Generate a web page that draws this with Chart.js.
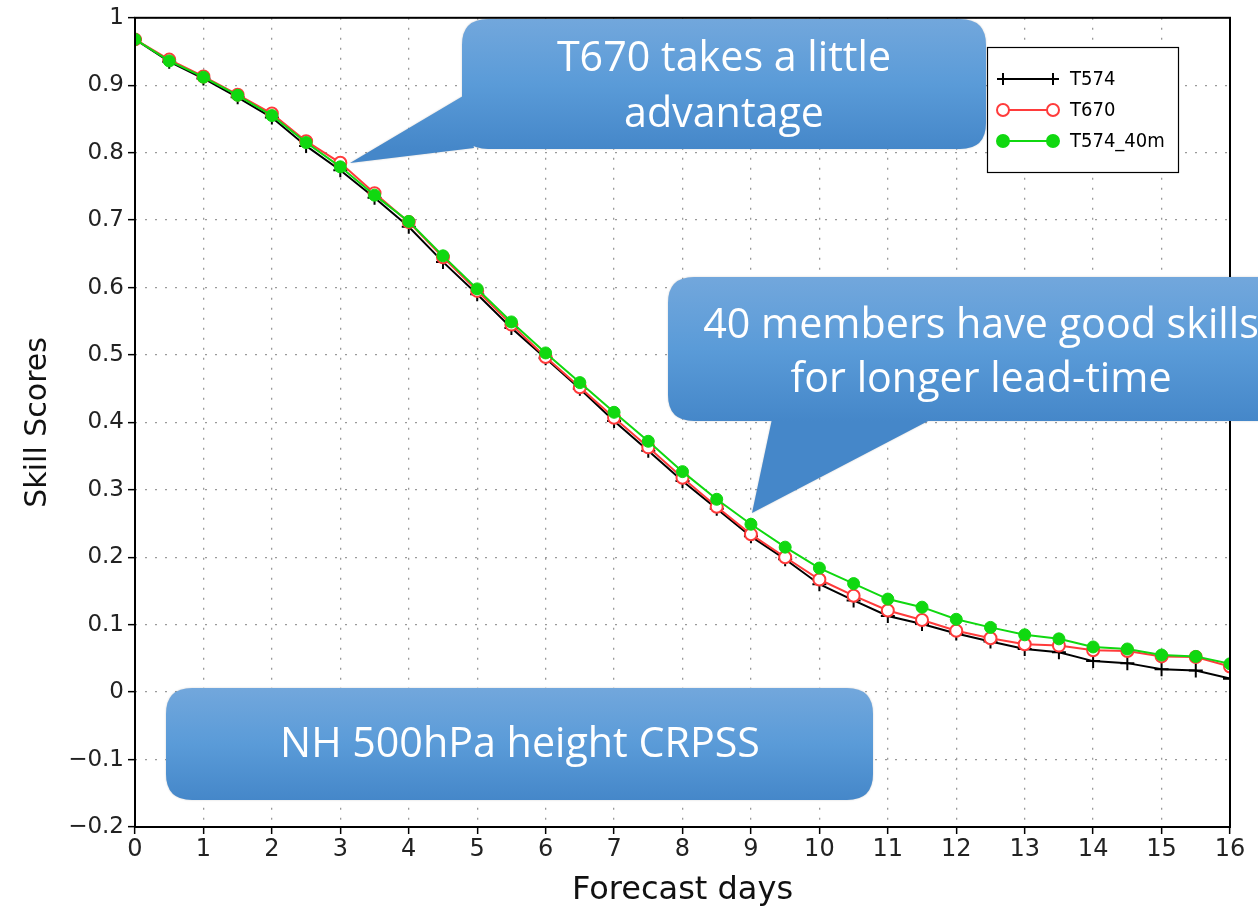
<!DOCTYPE html>
<html>
<head>
<meta charset="utf-8">
<title>NH 500hPa height CRPSS</title>
<script src="https://cdn.jsdelivr.net/npm/chart.js@4.4.1/dist/chart.umd.min.js"></script>
<style>
  html, body { margin: 0; padding: 0; background: #ffffff; }
  #wrap { width: 1258px; height: 906px; position: relative; }
  canvas { display: block; }
</style>
</head>
<body>
<div id="wrap"><canvas id="c" width="1258" height="906"></canvas></div>
<script>
// Forecast lead time (days), every 12 hours
const days = [0, 0.5, 1, 1.5, 2, 2.5, 3, 3.5, 4, 4.5, 5, 5.5, 6, 6.5, 7, 7.5, 8,
              8.5, 9, 9.5, 10, 10.5, 11, 11.5, 12, 12.5, 13, 13.5, 14, 14.5, 15, 15.5, 16];

// CRPSS for each ensemble configuration
const t574 = [0.968, 0.935, 0.910, 0.882, 0.852, 0.810, 0.774, 0.733, 0.690, 0.638, 0.590,
              0.540, 0.495, 0.450, 0.402, 0.358, 0.313, 0.272, 0.231, 0.197, 0.160, 0.136,
              0.113, 0.101, 0.087, 0.075, 0.064, 0.059, 0.046, 0.043, 0.034, 0.032, 0.020];
const t670 = [0.968, 0.938, 0.913, 0.886, 0.858, 0.817, 0.785, 0.740, 0.697, 0.645, 0.595,
              0.545, 0.497, 0.452, 0.407, 0.363, 0.318, 0.275, 0.234, 0.200, 0.167, 0.143,
              0.121, 0.107, 0.091, 0.080, 0.071, 0.069, 0.062, 0.061, 0.053, 0.052, 0.038];
const t574_40m = [0.968, 0.936, 0.912, 0.885, 0.855, 0.815, 0.779, 0.737, 0.698, 0.647, 0.598,
              0.549, 0.503, 0.459, 0.415, 0.372, 0.327, 0.286, 0.249, 0.215, 0.184, 0.161,
              0.138, 0.126, 0.108, 0.096, 0.085, 0.079, 0.067, 0.064, 0.055, 0.053, 0.042];

const seriesNames = ['T574', 'T670', 'T574_40m'];

// Axis ranges and ticks
const xTicks = [0, 1, 2, 3, 4, 5, 6, 7, 8, 9, 10, 11, 12, 13, 14, 15, 16];
const yTicks = [-0.2, -0.1, 0, 0.1, 0.2, 0.3, 0.4, 0.5, 0.6, 0.7, 0.8, 0.9, 1];

// Annotation boxes
const notes = [
  ['T670 takes a little', 'advantage'],
  ['40 members have good skills', 'for longer lead-time'],
  ['NH 500hPa height CRPSS']
];

const axisFont = "'DejaVu Sans', sans-serif";
const legendFont = "'DejaVu Sans Condensed', 'DejaVu Sans', sans-serif";
const noteFont = "'Open Sans', 'Noto Sans', sans-serif";

function pairs(vals) {
  return days.map((d, i) => ({ x: d, y: vals[i] }));
}

function fmtY(v) {
  const r = Math.round(v * 10) / 10;
  let s = (r === 0) ? '0' : String(r);
  return s.replace('-', '\u2212');
}

// Outer frame of the plotting area
const framePlugin = {
  id: 'frame',
  afterDatasetsDraw(chart) {
    const { ctx, chartArea: a } = chart;
    ctx.save();
    ctx.strokeStyle = '#000';
    ctx.lineWidth = 2;
    ctx.strokeRect(a.left, a.top, a.right - a.left, a.bottom - a.top);
    ctx.restore();
  }
};

// Boxed legend in the upper-right corner
const boxLegend = {
  id: 'boxLegend',
  afterDraw(chart) {
    const { ctx } = chart;
    const x0 = 987, y0 = 47, w = 191, h = 125;
    ctx.save();
    ctx.fillStyle = '#fff';
    ctx.fillRect(x0, y0, w, h);
    ctx.strokeStyle = '#000';
    ctx.lineWidth = 1.2;
    ctx.strokeRect(x0 + 0.5, y0 + 0.5, w, h);
    chart.data.datasets.forEach((ds, i) => {
      const y = 79 + i * 31;
      const xa = 1003, xb = 1053;
      ctx.strokeStyle = ds.borderColor;
      ctx.lineWidth = 2;
      ctx.beginPath(); ctx.moveTo(xa, y); ctx.lineTo(xb, y); ctx.stroke();
      [xa, xb].forEach(px => {
        if (ds.pointStyle === 'cross') {
          ctx.beginPath();
          ctx.moveTo(px - 6, y); ctx.lineTo(px + 6, y);
          ctx.moveTo(px, y - 6); ctx.lineTo(px, y + 6);
          ctx.stroke();
        } else {
          ctx.beginPath();
          ctx.arc(px, y, 6, 0, Math.PI * 2);
          ctx.fillStyle = ds.pointBackgroundColor;
          ctx.fill();
          ctx.stroke();
        }
      });
      ctx.fillStyle = '#000';
      ctx.font = '20px ' + legendFont;
      ctx.textBaseline = 'middle';
      ctx.textAlign = 'left';
      ctx.fillText(ds.label, 1070, y + 1);
    });
    ctx.restore();
  }
};

// Rounded speech-bubble annotations
function roundRectPath(ctx, x, y, w, h, r) {
  ctx.moveTo(x + r, y);
  ctx.lineTo(x + w - r, y);
  ctx.quadraticCurveTo(x + w, y, x + w, y + r);
  ctx.lineTo(x + w, y + h - r);
  ctx.quadraticCurveTo(x + w, y + h, x + w - r, y + h);
  ctx.lineTo(x + r, y + h);
  ctx.quadraticCurveTo(x, y + h, x, y + h - r);
  ctx.lineTo(x, y + r);
  ctx.quadraticCurveTo(x, y, x + r, y);
  ctx.closePath();
}

function drawBubble(ctx, box, pointer, lines, fontPx, cx, lineYs) {
  const { x, y, w, h } = box;
  const g = ctx.createLinearGradient(0, y, 0, y + h);
  g.addColorStop(0, '#72a7dc');
  g.addColorStop(0.5, '#5a9bd8');
  g.addColorStop(1, '#4587c9');
  ctx.save();
  ctx.shadowColor = 'rgba(0,0,0,0.2)';
  ctx.shadowBlur = 2;
  ctx.beginPath();
  roundRectPath(ctx, x, y, w, h, 26);
  if (pointer) {
    ctx.moveTo(pointer[0][0], pointer[0][1]);
    ctx.lineTo(pointer[1][0], pointer[1][1]);
    ctx.lineTo(pointer[2][0], pointer[2][1]);
    ctx.closePath();
  }
  ctx.fillStyle = g;
  ctx.fill('nonzero');
  ctx.restore();
  ctx.save();
  ctx.fillStyle = '#ffffff';
  ctx.font = fontPx + 'px ' + noteFont;
  ctx.textAlign = 'center';
  ctx.textBaseline = 'middle';
  lines.forEach((t, i) => ctx.fillText(t, cx, lineYs[i]));
  ctx.restore();
}

const bubblePlugin = {
  id: 'bubbles',
  afterDraw(chart) {
    const { ctx } = chart;
    ctx.save();
    ctx.font = '100px ' + noteFont;
    const ref = ctx.measureText(notes[2][0]).width;
    ctx.restore();
    const fs = 100 * 480 / ref;
    drawBubble(ctx, { x: 462, y: 19, w: 524, h: 130 },
      [[350, 163], [463, 96], [474, 148]], notes[0], fs, 724, [59, 115]);
    drawBubble(ctx, { x: 668, y: 277, w: 640, h: 144 },
      [[752, 513], [772, 419], [932, 419]], notes[1], fs, 981, [326, 380]);
    drawBubble(ctx, { x: 166, y: 688, w: 707, h: 112 },
      null, notes[2], fs, 520, [745]);
  }
};

const ctx = document.getElementById('c').getContext('2d');
new Chart(ctx, {
  type: 'line',
  data: {
    datasets: [
      {
        label: seriesNames[0], data: pairs(t574), order: 3,
        borderColor: '#000000', backgroundColor: '#000000', borderWidth: 2,
        pointStyle: 'cross', pointRadius: 7, pointBorderWidth: 2,
        pointBorderColor: '#000000', pointBackgroundColor: '#000000'
      },
      {
        label: seriesNames[1], data: pairs(t670), order: 2,
        borderColor: '#ff3b3b', backgroundColor: '#ffffff', borderWidth: 2,
        pointStyle: 'circle', pointRadius: 6, pointBorderWidth: 2,
        pointBorderColor: '#ff3b3b', pointBackgroundColor: '#ffffff'
      },
      {
        label: seriesNames[2], data: pairs(t574_40m), order: 1,
        borderColor: '#10d810', backgroundColor: '#10d810', borderWidth: 2,
        pointStyle: 'circle', pointRadius: 6, pointBorderWidth: 1,
        pointBorderColor: '#10d810', pointBackgroundColor: '#10d810'
      }
    ]
  },
  options: {
    responsive: false,
    animation: false,
    devicePixelRatio: 1,
    layout: { padding: { top: 16, right: 28, left: 0, bottom: 0 } },
    plugins: { legend: { display: false }, tooltip: { enabled: false } },
    elements: { line: { tension: 0 } },
    scales: {
      x: {
        type: 'linear', min: 0, max: 16,
        afterFit(s) { s.height = 79; },
        afterBuildTicks(s) { s.ticks = xTicks.map(v => ({ value: v })); },
        ticks: {
          color: '#222', padding: 1, maxRotation: 0, autoSkip: false,
          font: { family: axisFont, size: 24 },
          callback: v => String(v)
        },
        grid: {
          color: '#9a9a9a', lineWidth: 1.3, tickLength: 7,
          tickColor: '#000', tickWidth: 1.5, tickBorderDash: [],
          borderDash: [2, 8]
        },
        border: { display: false, dash: [2, 8] },
        title: {
          display: true, text: 'Forecast days', color: '#111',
          font: { family: axisFont, size: 32 }, padding: { top: 4, bottom: -4 }
        }
      },
      y: {
        type: 'linear', min: -0.2, max: 1,
        afterFit(s) { s.width = 135; },
        afterBuildTicks(s) { s.ticks = yTicks.map(v => ({ value: v })); },
        ticks: {
          color: '#222', padding: 4, autoSkip: false,
          font: { family: axisFont, size: 23 },
          callback: v => fmtY(v)
        },
        grid: {
          color: '#9a9a9a', lineWidth: 1.3, tickLength: 7,
          tickColor: '#000', tickWidth: 1.5, tickBorderDash: [],
          borderDash: [2, 8]
        },
        border: { display: false, dash: [2, 8] },
        title: {
          display: true, text: 'Skill Scores', color: '#111',
          font: { family: axisFont, size: 30 }, padding: { top: 20, bottom: 0 }
        }
      }
    }
  },
  plugins: [framePlugin, boxLegend, bubblePlugin]
});
</script>
</body>
</html>
